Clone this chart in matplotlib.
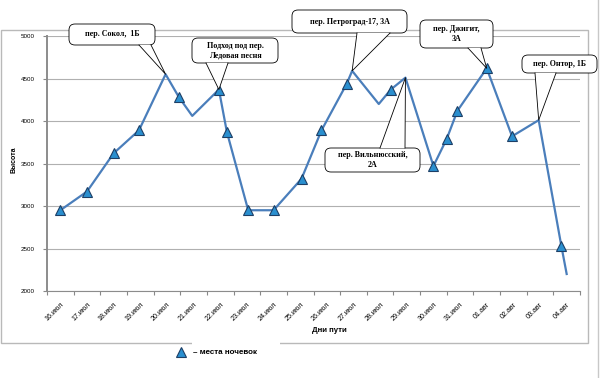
import matplotlib.pyplot as plt
from matplotlib.patches import FancyBboxPatch, Polygon, Rectangle
from matplotlib.lines import Line2D
from matplotlib.transforms import IdentityTransform

plt.rcParams['font.family'] = ['Liberation Sans', 'DejaVu Sans']

# days of the route (category labels)
day_labels = ['16.июл', '17.июл', '18.июл', '19.июл', '20.июл', '21.июл', '22.июл',
              '23.июл', '24.июл', '25.июл', '26.июл', '27.июл', '28.июл', '29.июл',
              '30.июл', '31.июл', '01.авг', '02.авг', '03.авг', '04.авг']

# route profile: position in days (0 = 16.июл) and altitude, m
route_day = [0, 1, 2, 2.95, 3.95, 4.45, 4.95, 5.95, 6.25, 7.05, 8.0, 9.05, 9.8,
             10.75, 10.95, 11.95, 12.4, 12.95, 14.0, 14.5, 14.9, 16.0, 16.95,
             17.95, 18.8, 19.0]
route_alt = [2950, 3170, 3620, 3890, 4550, 4280, 4060, 4370, 3870, 2950, 2950,
             3320, 3890, 4440, 4590, 4200, 4370, 4510, 3470, 3790, 4120, 4620,
             3820, 4010, 2530, 2200]

# overnight camps (indices into the route)
camp_idx = [0, 1, 2, 3, 5, 7, 8, 9, 10, 11, 12, 13, 16, 18, 19, 20, 21, 22, 24]

# callouts: text, route index of the pointed vertex
callout_text = ['пер. Сокол,  1Б', 'Подход под пер.\nЛедовая песня',
                'пер. Петроград-17, 3А', 'пер. Джигит,\n3А', 'пер. Онтор, 1Б',
                'пер. Вильнюсский,\n2А']
callout_idx = [4, 7, 14, 21, 23, 17]

W, H = 601, 378
fig = plt.figure(figsize=(W / 100, H / 100), dpi=100)

def px(x, y):
    # image pixel (top-left origin) -> display coords
    return (x, H - y)

# outer chart frame
fig.add_artist(Rectangle(px(1, 343), 587, 313, transform=IdentityTransform(),
                         fill=False, ec='#b9b9b9', lw=1))
fig.add_artist(Line2D([598, 598], [0, H], transform=IdentityTransform(),
                      color='#c8c8c8', lw=1))

ax = fig.add_axes([47 / W, 87 / H, 533 / W, 255 / H])
ax.set_xlim(-0.5, len(day_labels) - 0.5)
ax.set_ylim(2000, 5000)

ax.plot(route_day, route_alt, color='#4a7ebb', lw=1.6, zorder=3, clip_on=False)
ax.plot([route_day[i] for i in camp_idx], [route_alt[i] for i in camp_idx],
        ls='none', marker='^', ms=7.5, mfc='#2a8fcf', mec='#1d3f66', mew=0.8,
        zorder=4, clip_on=False)

ax.set_yticks(range(2000, 5001, 500))
ax.yaxis.grid(True, color='#b0b0b0', lw=0.8)
ax.set_axisbelow(True)
ax.tick_params(axis='y', labelsize=4.5, length=3, color='#888888', pad=6)

ax.set_xticks([i - 0.5 for i in range(len(day_labels) + 1)])
ax.set_xticklabels([])
ax.set_xticks(range(len(day_labels)), minor=True)
ax.set_xticklabels(day_labels, minor=True, rotation=45, ha='right', va='top',
                   rotation_mode='anchor', fontsize=5.1)
ax.tick_params(axis='x', which='major', length=3, color='#888888')
ax.tick_params(axis='x', which='minor', length=0, pad=7)

for s in ['top', 'right']:
    ax.spines[s].set_visible(False)
ax.spines['left'].set_color('#8c8c8c')
ax.spines['left'].set_linewidth(1.4)
ax.spines['bottom'].set_color('#8c8c8c')

fig.text(329 / W, 1 - 331 / H, 'Дни пути', ha='center', va='center',
         fontsize=5.6, fontweight='bold')
fig.text(14 / W, 1 - 160 / H, 'Высота', ha='center', va='center',
         rotation=90, fontsize=5, fontweight='bold')

# legend
fig.add_artist(Rectangle(px(192, 364), 88, 28, transform=IdentityTransform(),
                         fc='white', ec='none'))
fig.add_artist(Line2D([181], [H - 352], transform=IdentityTransform(),
                      marker='^', ms=7.5, mfc='#2a8fcf', mec='#1d3f66', mew=0.8))
fig.text(193 / W, 1 - 352 / H, '– места ночевок', ha='left', va='center',
         fontsize=5.8, fontweight='bold')

# callout boxes: (left, top, width, height) and pointer base points, image px
box_geom = [(69, 24, 86, 21), (192, 38, 86, 25), (292, 10, 115, 23),
            (420, 20, 73, 28), (522, 55, 75, 18), (325, 148, 95, 24)]
base_pts = [((139, 45), (151, 45)), ((206, 63), (228, 63)),
            ((357, 33), (390, 33)), ((468, 48), (481, 48)),
            ((535, 73), (556, 73)), ((380, 148), (405, 148))]

fig.canvas.draw()
for text, idx, (bx, by, bw, bh), (b1, b2) in zip(callout_text, callout_idx,
                                                  box_geom, base_pts):
    tip = ax.transData.transform((route_day[idx], route_alt[idx]))
    fig.add_artist(FancyBboxPatch(px(bx, by + bh), bw, bh,
                                  boxstyle='round,pad=0,rounding_size=6',
                                  transform=IdentityTransform(),
                                  fc='white', ec='black', lw=0.6, zorder=5))
    p1, p2 = px(*b1), px(*b2)
    fig.add_artist(Polygon([p1, tuple(tip), p2], closed=True,
                           transform=IdentityTransform(),
                           fc='white', ec='none', zorder=6))
    fig.add_artist(Line2D([p1[0], tip[0], p2[0]], [p1[1], tip[1], p2[1]],
                          transform=IdentityTransform(), color='black',
                          lw=0.6, zorder=7))
    fig.text((bx + bw / 2) / W, 1 - (by + bh / 2) / H, text, ha='center',
             va='center', fontsize=5.8, fontweight='bold',
             family=['Liberation Serif', 'DejaVu Serif'], linespacing=1.25,
             zorder=8)

fig.savefig('out.png', dpi=100)
